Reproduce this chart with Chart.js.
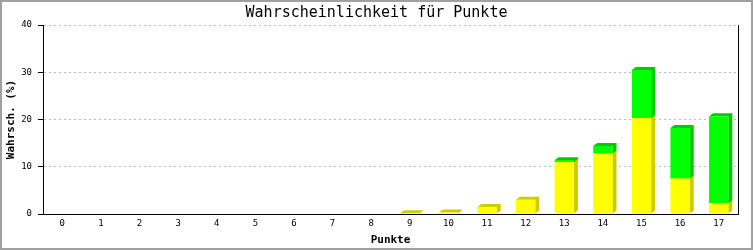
<!DOCTYPE html>
<html>
<head>
<meta charset="utf-8">
<script src="https://cdn.jsdelivr.net/npm/chart.js@4/dist/chart.umd.min.js"></script>
<style>
  body { margin: 0; background: #fff; }
  canvas { display: block; }
</style>
</head>
<body>
<canvas id="chart" width="753" height="250"></canvas>
<script>
// Data
let punkte = ["0","1","2","3","4","5","6","7","8","9","10","11","12","13","14","15","16","17"];
let gelb  = [0,0,0,0,0,0,0,0,0,0.15,0.3,1.5,3.0,11.0,12.8,20.3,7.5,2.3];
let gruen = [0,0,0,0,0,0,0,0,0,0,0,0,0,0.4,1.6,10.2,10.7,18.4];
let yTicks = [0,10,20,30,40];

let mono = "'DejaVu Sans Mono', monospace";

// 3D sides and tops of the bars
let depthPlugin = {
    id: "depth",
    beforeDatasetsDraw(chart) {
        let ctx = chart.ctx;
        let dx = 4, dy = 3;
        let sideColors = ["#cccc00", "#00cc00"];
        chart.data.datasets.forEach(function(ds, i) {
            let meta = chart.getDatasetMeta(i);
            meta.data.forEach(function(bar, j) {
                if (!ds.data[j]) return;
                let p = bar.getProps(["x", "y", "base", "width"], true);
                let l = p.x - p.width / 2, r = p.x + p.width / 2;
                let t = Math.min(p.y, p.base), b = Math.max(p.y, p.base);
                ctx.save();
                ctx.fillStyle = sideColors[i];
                ctx.beginPath();
                ctx.moveTo(l, t);
                ctx.lineTo(l + dx, t - dy);
                ctx.lineTo(r + dx, t - dy);
                ctx.lineTo(r + dx, b - dy);
                ctx.lineTo(r, b);
                ctx.lineTo(r, t);
                ctx.closePath();
                ctx.fill();
                ctx.restore();
            });
        });
    },
    afterDraw(chart) {
        let ctx = chart.ctx;
        ctx.save();
        ctx.strokeStyle = "#a0a0a0";
        ctx.lineWidth = 2;
        ctx.strokeRect(1, 1, chart.width - 2, chart.height - 2);
        ctx.restore();
    }
};

new Chart(document.getElementById("chart"), {
    type: "bar",
    data: {
        labels: punkte,
        datasets: [
            { label: "gelb", data: gelb, backgroundColor: "#ffff00", borderWidth: 0 },
            { label: "grün", data: gruen, backgroundColor: "#00ff00", borderWidth: 0 }
        ]
    },
    options: {
        responsive: false,
        animation: false,
        devicePixelRatio: 1,
        layout: { padding: 0 },
        datasets: { bar: { barPercentage: 0.5, categoryPercentage: 1 } },
        plugins: {
            legend: { display: false },
            tooltip: { enabled: false },
            title: {
                display: true,
                text: "Wahrscheinlichkeit für Punkte",
                color: "#000",
                font: { family: mono, size: 15, weight: "normal", lineHeight: 1.2 },
                padding: { top: 4, bottom: 3 }
            }
        },
        scales: {
            x: {
                stacked: true,
                grid: { display: false, drawTicks: false },
                border: { display: true, color: "#000", width: 1 },
                ticks: { color: "#000", font: { family: mono, size: 9 }, padding: 4, maxRotation: 0 },
                title: {
                    display: true, text: "Punkte", color: "#000",
                    font: { family: mono, size: 11, weight: "bold", lineHeight: 1.2 },
                    padding: { top: 0, bottom: 3 }
                },
                afterFit(s) { s.height = 36; }
            },
            y: {
                stacked: true,
                min: 0,
                max: 40,
                afterBuildTicks(s) { s.ticks = yTicks.map(v => ({ value: v })); },
                grid: {
                    color: "#bbbbbb",
                    tickColor: "#000",
                    tickLength: 5,
                    tickBorderDash: []
                },
                border: { display: true, color: "#000", width: 1, dash: [2, 3] },
                ticks: { color: "#000", font: { family: mono, size: 9 }, padding: 6 },
                title: {
                    display: true, text: "Wahrsch. (%)", color: "#000",
                    font: { family: mono, size: 11, weight: "bold", lineHeight: 1.2 },
                    padding: { top: 5, bottom: 0 }
                },
                afterFit(s) { s.width = 43; }
            },
            y2: {
                position: "right",
                display: true,
                grid: { display: false },
                border: { display: true, color: "#000", width: 1 },
                ticks: { display: false },
                afterFit(s) { s.width = 15; }
            }
        }
    },
    plugins: [depthPlugin]
});
</script>
</body>
</html>
